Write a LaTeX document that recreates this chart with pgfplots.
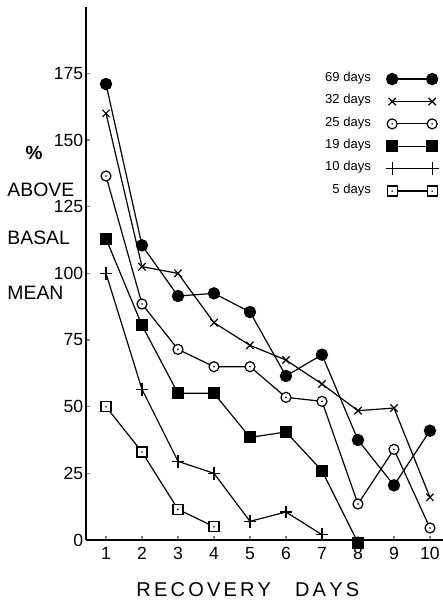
\documentclass[border=0pt]{standalone}
\usepackage{fontspec}
\setmainfont{Liberation Sans}
\usepackage{pgfplots}
\pgfplotsset{compat=1.18}

% circle and square with a dot in the middle
\pgfdeclareplotmark{odot}{%
  \pgfpathcircle{\pgfpointorigin}{\pgfplotmarksize}%
  \pgfsetfillcolor{white}\pgfusepathqfillstroke
  \pgfpathcircle{\pgfpointorigin}{0.45pt}%
  \pgfsetfillcolor{black}\pgfusepathqfill}
\pgfdeclareplotmark{sdot}{%
  \pgfpathrectangle{\pgfpoint{-\pgfplotmarksize}{-\pgfplotmarksize}}%
    {\pgfpoint{2\pgfplotmarksize}{2\pgfplotmarksize}}%
  \pgfsetfillcolor{white}\pgfusepathqfillstroke
  \pgfpathcircle{\pgfpointorigin}{0.45pt}%
  \pgfsetfillcolor{black}\pgfusepathqfill}

\newcommand{\ls}{\kern1.6pt}

\begin{document}
\begin{tikzpicture}
\begin{axis}[
    scale only axis,
    width=178.5pt, height=266.7pt,
    xmin=0.444, xmax=10.36,
    ymin=0, ymax=200,
    axis lines=left,
    axis line style={-, line width=1pt},
    xtick={1,...,10},
    ytick={0,25,...,175},
    tick align=inside,
    major tick length=2pt,
    tick style={line width=0.6pt},
    ticklabel style={font=\fontsize{8.8}{10}\selectfont},
    yticklabel style={inner sep=1.2pt},
    /pgf/number format/assume math mode=true,
    clip=false,
    every axis plot/.append style={black, line width=0.6pt},
    legend plot pos=right,
    legend cell align=right,
    legend image code/.code={%
      \draw[mark repeat=1,#1] plot coordinates {(0pt,0pt) (20pt,0pt)};},
    legend style={at={(axis cs:10.25,175.7)}, anchor=north east,
      draw=none, fill=none, inner sep=0pt,
      font=\fontsize{6.5}{7}\selectfont,
      row sep=4pt, column sep=7.5pt,
      nodes={inner sep=0pt, text height=4.7pt, text depth=2.5pt}},
]
\addplot[mark=*, mark size=2.8pt] coordinates {
  (1,171) (2,110.5) (3,91.5) (4,92.5) (5,85.5) (6,61.5) (7,69.5) (8,37.5) (9,20.5) (10,41)};
\addlegendentry{69 days}
\addplot[mark=x, mark size=2.6pt] coordinates {
  (1,160) (2,102.5) (3,100) (4,81.5) (5,73) (6,67.5) (7,58.5) (8,48.5) (9,49.5) (10,16)};
\addlegendentry{32 days}
\addplot[mark=odot, mark size=2.5pt] coordinates {
  (1,136.5) (2,88.5) (3,71.5) (4,65) (5,65) (6,53.5) (7,52) (8,13.5) (9,34) (10,4.5)};
\addlegendentry{25 days}
\addplot[mark=square*, mark size=2.7pt] coordinates {
  (1,113) (2,80.5) (3,55) (4,55) (5,38.5) (6,40.5) (7,26) (8,-1)};
\addlegendentry{19 days}
\addplot[mark=+, mark size=3.2pt] coordinates {
  (1,100) (2,56.5) (3,29.5) (4,25) (5,7) (6,10.5) (7,2)};
\addlegendentry{10 days}
\addplot[mark=sdot, mark size=2.5pt] coordinates {
  (1,50) (2,33) (3,11.5) (4,5)};
\addlegendentry{5 days}

% y label, stacked words
\node[font=\bfseries\fontsize{9.5}{10}\selectfont] at (axis cs:-1.0,145) {\%};
\node[anchor=west, inner sep=0pt, font=\fontsize{9.7}{11}\selectfont] at (axis cs:-1.75,131.2) {ABOVE};
\node[anchor=west, inner sep=0pt, font=\fontsize{9.7}{11}\selectfont] at (axis cs:-1.75,113.2) {BASAL};
\node[anchor=west, inner sep=0pt, font=\fontsize{9.7}{11}\selectfont] at (axis cs:-1.75,92.6) {MEAN};
% x label
\node[font=\fontsize{10}{11}\selectfont] at (axis cs:4.94,-18.75)
  {R\ls E\ls C\ls O\ls V\ls E\ls R\ls Y\hspace{12pt}D\ls A\ls Y\ls S};

\path (rel axis cs:0,0) ++(-43pt,-32.5pt) coordinate (bbsw);
\path (rel axis cs:1,1) ++(0pt,3.35pt) coordinate (bbne);
\end{axis}
\pgfresetboundingbox
\path[use as bounding box] (bbsw) rectangle (bbne);
\end{tikzpicture}
\end{document}
